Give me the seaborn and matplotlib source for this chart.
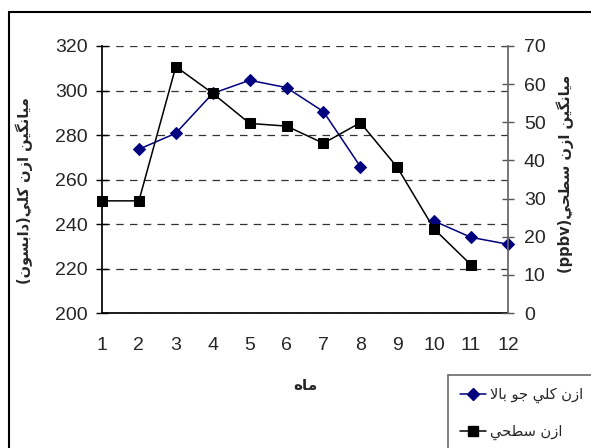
import numpy as np
import pandas as pd
import matplotlib
matplotlib.use("Agg")
import matplotlib.pyplot as plt
from matplotlib.patches import Rectangle
from matplotlib.lines import Line2D
import seaborn as sns

# ---------------- data ----------------
months = [1, 2, 3, 4, 5, 6, 7, 8, 9, 10, 11, 12]
total_ozone = [np.nan, 273.6, 280.8, 298.7, 304.6, 301.3, 290.5, 265.8, np.nan, 241.3, 234.0, 230.9]
surface_ozone = [29.4, 29.4, 64.6, 57.6, 49.7, 49.0, 44.5, 49.9, 38.2, 22.0, 12.6, np.nan]
left_ticks = [200, 220, 240, 260, 280, 300, 320]
right_ticks = [0, 10, 20, 30, 40, 50, 60, 70]

label_left = "ميانگين ازن كلي(دابسون)"
label_right = "ميانگين ازن سطحي(ppbv)"
label_x = "ماه"
legend_total = "ازن كلي جو بالا"
legend_surface = "ازن سطحي"

# ---------------- simple Arabic shaping for display ----------------
FORMS = {
    'ا': ('\uFE8D', '\uFE8E', None, None),
    'ب': ('\uFE8F', '\uFE90', '\uFE91', '\uFE92'),
    'ج': ('\uFE9D', '\uFE9E', '\uFE9F', '\uFEA0'),
    'ح': ('\uFEA1', '\uFEA2', '\uFEA3', '\uFEA4'),
    'د': ('\uFEA9', '\uFEAA', None, None),
    'ز': ('\uFEAF', '\uFEB0', None, None),
    'س': ('\uFEB1', '\uFEB2', '\uFEB3', '\uFEB4'),
    'ط': ('\uFEC1', '\uFEC2', '\uFEC3', '\uFEC4'),
    'ك': ('\uFED9', '\uFEDA', '\uFEDB', '\uFEDC'),
    'ل': ('\uFEDD', '\uFEDE', '\uFEDF', '\uFEE0'),
    'م': ('\uFEE1', '\uFEE2', '\uFEE3', '\uFEE4'),
    'ن': ('\uFEE5', '\uFEE6', '\uFEE7', '\uFEE8'),
    'ه': ('\uFEE9', '\uFEEA', '\uFEEB', '\uFEEC'),
    'و': ('\uFEED', '\uFEEE', None, None),
    'ي': ('\uFEF1', '\uFEF2', '\uFEF3', '\uFEF4'),
    'گ': ('\uFB92', '\uFB93', '\uFB94', '\uFB95'),
}
MIRROR = {'(': ')', ')': '('}


def shape(text):
    out = []
    i = 0
    n = len(text)
    while i < n:
        ch = text[i]
        if ch in FORMS:
            prev = text[i - 1] if i > 0 else ''
            prev_j = prev in FORMS and FORMS[prev][2] is not None
            if ch == 'ل' and i + 1 < n and text[i + 1] == 'ا':
                out.append('\uFEFC' if prev_j else '\uFEFB')
                i += 2
                continue
            nxt = text[i + 1] if i + 1 < n else ''
            next_j = nxt in FORMS and FORMS[ch][2] is not None
            iso, fin, ini, med = FORMS[ch]
            if prev_j and next_j:
                out.append(med)
            elif prev_j:
                out.append(fin)
            elif next_j:
                out.append(ini)
            else:
                out.append(iso)
        else:
            out.append(ch)
        i += 1
    s = ''.join(out)
    # visual reorder (RTL paragraph, keep latin/digit runs LTR)
    runs = []
    for c in s:
        ltr = c.isascii() and c.isalnum()
        if runs and runs[-1][0] == ltr:
            runs[-1][1].append(c)
        else:
            runs.append([ltr, [c]])
    vis = []
    for ltr, chars in reversed(runs):
        if ltr:
            vis.append(''.join(chars))
        else:
            vis.append(''.join(MIRROR.get(c, c) for c in reversed(chars)))
    return ''.join(vis)


# ---------------- figure ----------------
sns.set_theme(style="white")
plt.rcParams['font.family'] = ['Liberation Sans', 'DejaVu Sans']

W, H = 591, 448
fig = plt.figure(figsize=(W / 100, H / 100), dpi=100)
ax = fig.add_axes([102 / W, 1 - 313 / H, 406 / W, 267 / H])
ax2 = ax.twinx()

# outer chart border (cut by the image edges)
fig.patches.append(Rectangle((9 / W, -0.1), 1.2, 1 - 12 / H + 0.1, transform=fig.transFigure,
                             fill=False, edgecolor='black', linewidth=1.5, zorder=0))

df_t = pd.DataFrame({'month': months, 'value': total_ozone})
df_t['segment'] = df_t['value'].isna().cumsum()
df_t = df_t.dropna()
df_s = pd.DataFrame({'month': months, 'value': surface_ozone}).dropna()

blue = '#00007f'
sns.lineplot(data=df_t, x='month', y='value', units='segment', estimator=None, ax=ax,
             color=blue, marker='D', markersize=6.5, linewidth=1.1,
             markeredgecolor=blue, clip_on=False, zorder=5)
sns.lineplot(data=df_s, x='month', y='value', ax=ax2, estimator=None,
             color='black', marker='s', markersize=7.5, linewidth=1.1,
             markeredgecolor='black', clip_on=False, zorder=5)

ax.set_xlim(1, 12)
ax.set_ylim(200, 320)
ax2.set_ylim(0, 70)
ax.set_xticks(months)
ax.set_yticks(left_ticks)
ax2.set_yticks(right_ticks)

fs = 14
ax.tick_params(axis='x', direction='out', length=5, width=1, color='black', pad=12, labelsize=fs)
ax.tick_params(axis='y', direction='inout', length=9, width=1, color='black', pad=6, labelsize=fs)
ax2.tick_params(axis='y', direction='inout', length=9, width=1, color='#555555', pad=7, labelsize=fs)

ax.grid(axis='y', linestyle=(0, (6, 5)), color='#333333', linewidth=0.9)
ax.grid(axis='x', visible=False)
ax2.grid(False)
for a in (ax, ax2):
    a.spines['top'].set_visible(False)
    a.spines['left'].set_color('black')
    a.spines['bottom'].set_color('black')
    a.spines['right'].set_color('#666666')
    a.set_facecolor('none')
ax2.spines['left'].set_visible(False)
ax2.spines['bottom'].set_visible(False)
ax.spines['right'].set_visible(False)

ax.set_xlabel(shape(label_x), fontsize=11, fontweight='bold', family=['DejaVu Sans'])
ax.xaxis.set_label_coords(0.5, -0.245)
ax.set_ylabel(shape(label_left), fontsize=10.5, fontweight='bold', family=['DejaVu Sans'], rotation=90)
ax.yaxis.set_label_coords(-0.17, 0.46)
ax2.set_ylabel(shape(label_right), fontsize=10.5, fontweight='bold', family=['DejaVu Sans'], rotation=90)
ax2.yaxis.set_label_coords(1.12, 0.52)

handles = [Line2D([], [], color=blue, marker='D', markersize=6, linewidth=1.1),
           Line2D([], [], color='black', marker='s', markersize=6.5, linewidth=1.1)]
leg = fig.legend(handles, [shape(legend_total), shape(legend_surface)],
                 loc='upper left', bbox_to_anchor=(448 / W, 1 - 375 / H),
                 bbox_transform=fig.transFigure, frameon=True, fancybox=False,
                 handlelength=1.8, handletextpad=0.3, borderpad=0.8, borderaxespad=0,
                 labelspacing=1.45, prop={'family': ['DejaVu Sans'], 'size': 10.5})
leg.get_frame().set_edgecolor('#444444')
leg.get_frame().set_linewidth(1.2)

fig.savefig('out.png', dpi=100)
